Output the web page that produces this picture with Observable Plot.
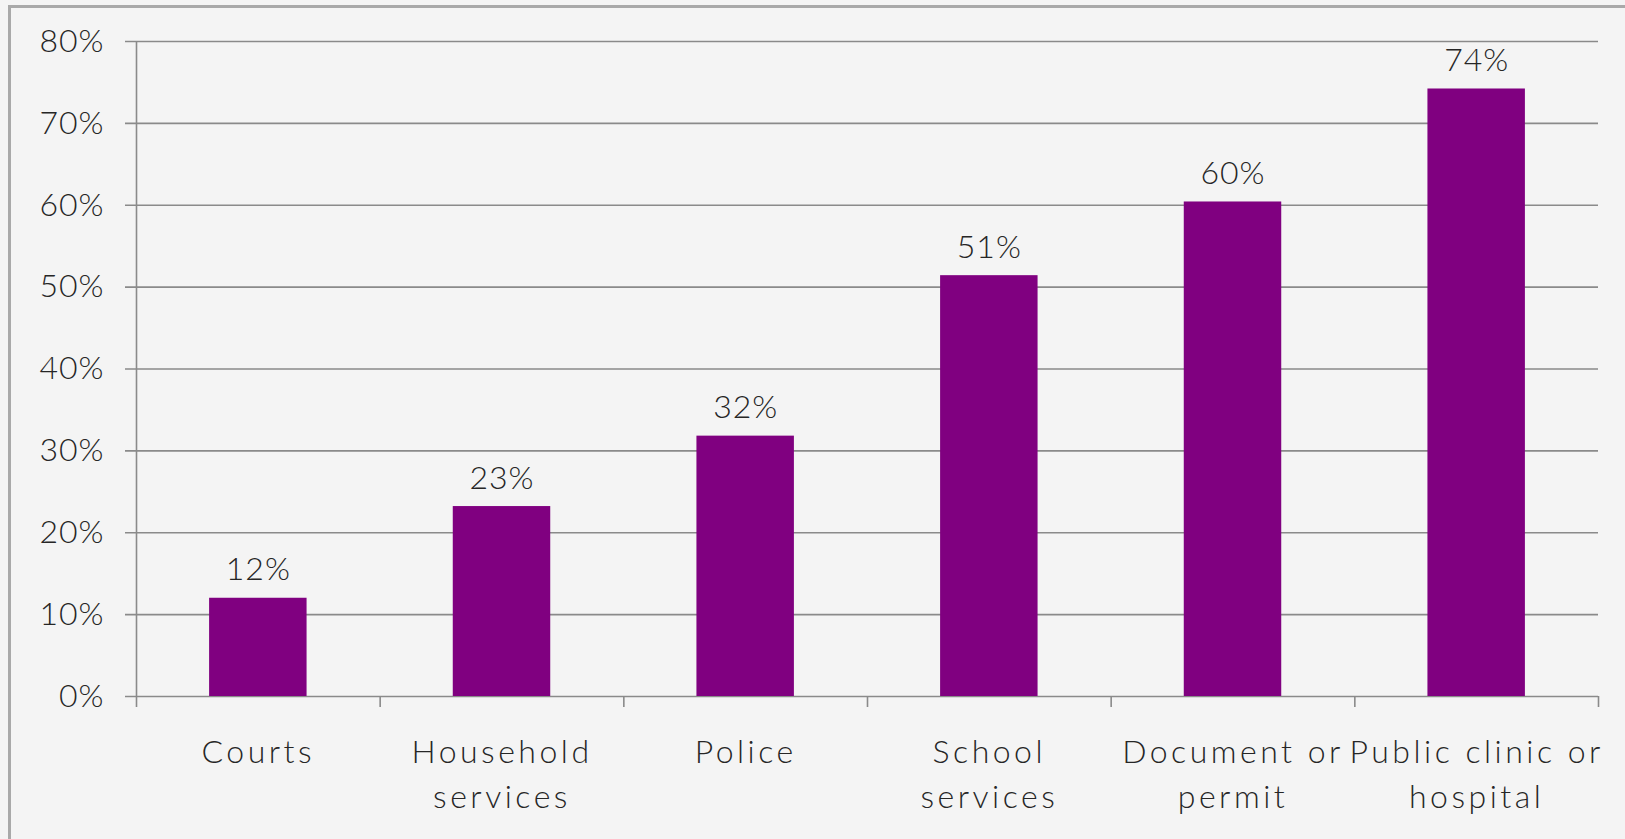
<!DOCTYPE html>
<html>
<head>
<meta charset="utf-8">
<script src="https://cdn.jsdelivr.net/npm/d3@7"></script>
<script src="https://cdn.jsdelivr.net/npm/@observablehq/plot@0.6"></script>
<style>
  html, body { margin: 0; padding: 0; background: #f4f4f4; width: 1625px; height: 839px; overflow: hidden; }
  #frame { position: absolute; left: 8px; top: 5px; right: -10px; bottom: -10px;
           border-left: 3px solid #a9a9a9; border-top: 3px solid #a9a9a9; }
  #chart { position: absolute; left: 0; top: 0; }
  #chart svg text { letter-spacing: 1px; }
</style>
</head>
<body>
<div id="frame"></div>
<div id="chart"></div>
<script>
// Data
const categories = ["Courts", "Household\nservices", "Police", "School\nservices", "Document or\npermit", "Public clinic or\nhospital"];
const values = [0.12, 0.232, 0.318, 0.514, 0.604, 0.742];
const yTicks = [0, 0.1, 0.2, 0.3, 0.4, 0.5, 0.6, 0.7, 0.8];

const data = categories.map((c, i) => ({i, label: c, value: values[i]}));
const boundaries = d3.range(categories.length + 1);

const W = 1625, H = 839;
const mL = 136, mR = 27, mT = 41, mB = 143;
const step = (W - mL - mR) / categories.length;
const inset = step * 0.3;
const pct = d3.format(".0%");
const gridColor = "#8a8a8a";
const textColor = "#262626";

const chart = Plot.plot({
  width: W, height: H,
  marginLeft: mL, marginRight: mR, marginTop: mT, marginBottom: mB,
  style: {background: "transparent", fontFamily: "Lato, 'Open Sans', sans-serif", fontSize: "32px", fontWeight: 300, color: textColor},
  x: {domain: [0, categories.length], axis: null},
  y: {domain: [0, 0.8], axis: null},
  marks: [
    Plot.ruleY(yTicks, {y: d => d, stroke: gridColor, strokeWidth: 1.6, insetLeft: -11}),
    Plot.ruleX([0], {x: d => d, y1: 0, y2: 0.8, stroke: gridColor, strokeWidth: 1.6}),
    Plot.ruleX(boundaries, {x: d => d, y1: 0, y2: 0, insetBottom: -11, stroke: gridColor, strokeWidth: 1.6}),
    Plot.rectY(data, {x1: "i", x2: d => d.i + 1, y: "value", fill: "#800080", insetLeft: inset, insetRight: inset}),
    Plot.text(data, {x: d => d.i + 0.5, y: "value", text: d => pct(d.value), lineAnchor: "bottom", dy: -18, fill: textColor, fontWeight: 300}),
    Plot.text(data, {x: d => d.i + 0.5, y: () => 0, text: "label", lineAnchor: "top", dy: 35, lineHeight: 1.4, fill: textColor, fontWeight: 300}),
    Plot.text(yTicks, {x: () => 0, y: d => d, text: d => pct(d), textAnchor: "end", dx: -32, fill: textColor, fontWeight: 300})
  ]
});
// widen the category labels' letter spacing (second text mark)
const textGroups = d3.select(chart).selectAll('g[aria-label="text"]').nodes();
if (textGroups[1]) d3.select(textGroups[1]).selectAll("text").style("letter-spacing", "3.5px");
document.getElementById("chart").append(chart);
</script>
</body>
</html>
